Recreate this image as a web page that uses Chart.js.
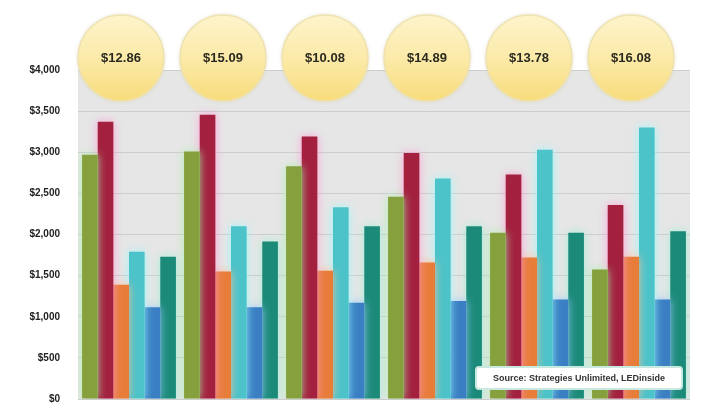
<!DOCTYPE html>
<html>
<head>
<meta charset="utf-8">
<script src="https://cdn.jsdelivr.net/npm/chart.js@4/dist/chart.umd.min.js"></script>
<style>
  html, body { margin: 0; padding: 0; background: #ffffff; overflow: hidden; }
  canvas { display: block; }
</style>
</head>
<body>
<canvas id="price-chart" width="720" height="405"></canvas>
<script>
// データ
const categories = ['1', '2', '3', '4', '5', '6'];
const priceLabels = ['$12.86', '$15.09', '$10.08', '$14.89', '$13.78', '$16.08'];
const greenValues   = [2970, 3010, 2830, 2460, 2020, 1575];
const crimsonValues = [3370, 3455, 3190, 2990, 2730, 2360];
const orangeValues  = [1390, 1550, 1560, 1660, 1720, 1730];
const cyanValues    = [1790, 2100, 2330, 2680, 3030, 3300];
const blueValues    = [1115, 1115, 1170, 1190, 1210, 1210];
const tealValues    = [1730, 1915, 2100, 2100, 2020, 2040];
const yTicks = [0, 500, 1000, 1500, 2000, 2500, 3000, 3500, 4000];
const sourceNote = 'Source: Strategies Unlimited, LEDinside';

// 色設定
const barColors  = ['#85a03c', '#a3203f', '#e87d3a', '#4cc3c9', '#3a7fc3', '#1c8a79'];
const glowColors = ['rgba(170,240,170,0.9)', 'rgba(255,150,210,0.9)', 'rgba(255,190,150,0.9)',
                    'rgba(150,250,255,0.9)', 'rgba(150,200,255,0.9)', 'rgba(150,240,210,0.9)'];

const seriesValues = [greenValues, crimsonValues, orangeValues, cyanValues, blueValues, tealValues];

// 背景・グロー・価格バブル
const decorPlugin = {
    id: 'decor',
    beforeDraw(chart) {
        const { ctx, chartArea } = chart;
        ctx.save();
        ctx.fillStyle = '#ffffff';
        ctx.fillRect(0, 0, chart.width, chart.height);
        ctx.fillStyle = '#e6e6e6';
        ctx.fillRect(chartArea.left, chartArea.top, chartArea.right - chartArea.left, chartArea.bottom - chartArea.top);
        ctx.restore();
    },
    beforeDatasetDraw(chart, args) {
        const ctx = chart.ctx;
        ctx.save();
        ctx.shadowColor = glowColors[args.index];
        ctx.shadowBlur = 9;
    },
    afterDatasetDraw(chart) {
        chart.ctx.restore();
    },
    afterDraw(chart) {
        const { ctx, scales } = chart;
        const r = 43;
        const cy = 58;
        priceLabels.forEach((label, i) => {
            const cx = scales.x.getPixelForValue(i) - 8;
            ctx.save();
            ctx.shadowColor = 'rgba(200,190,140,0.6)';
            ctx.shadowBlur = 4;
            const grad = ctx.createLinearGradient(0, cy - r, 0, cy + r);
            grad.addColorStop(0, '#fdf4cc');
            grad.addColorStop(0.5, '#fbeaa8');
            grad.addColorStop(1, '#f8dc7c');
            ctx.beginPath();
            ctx.arc(cx, cy, r, 0, Math.PI * 2);
            ctx.fillStyle = grad;
            ctx.fill();
            ctx.shadowBlur = 0;
            ctx.strokeStyle = '#efe2b0';
            ctx.lineWidth = 1.5;
            ctx.stroke();
            ctx.fillStyle = '#2b2a20';
            ctx.font = 'bold 13px "Liberation Sans", Arial, sans-serif';
            ctx.textAlign = 'center';
            ctx.textBaseline = 'middle';
            ctx.fillText(label, cx, cy);
            ctx.restore();
        });

        // 出典ボックス
        ctx.save();
        ctx.fillStyle = '#ffffff';
        ctx.strokeStyle = '#c8e8e0';
        ctx.lineWidth = 2;
        ctx.beginPath();
        ctx.roundRect(476, 367, 206, 22, 3);
        ctx.fill();
        ctx.stroke();
        ctx.fillStyle = '#333333';
        ctx.font = 'bold 9px "Liberation Sans", Arial, sans-serif';
        ctx.textAlign = 'center';
        ctx.textBaseline = 'middle';
        ctx.fillText(sourceNote, 579, 378.5);
        ctx.restore();
    }
};

const ctx = document.getElementById('price-chart').getContext('2d');
const priceChart = new Chart(ctx, {
    type: 'bar',
    data: {
        labels: categories,
        datasets: seriesValues.map((values, i) => ({
            label: 'series ' + (i + 1),
            data: values,
            backgroundColor: barColors[i],
            borderWidth: 0,
            categoryPercentage: 0.92,
            barPercentage: 1.0
        }))
    },
    options: {
        responsive: false,
        animation: false,
        devicePixelRatio: 1,
        layout: { padding: { top: 70, right: 30, bottom: 0, left: 0 } },
        plugins: {
            legend: { display: false },
            tooltip: { enabled: false }
        },
        scales: {
            x: { display: false },
            y: {
                min: 0,
                max: 4000,
                afterBuildTicks(scale) {
                    scale.ticks = yTicks.map(v => ({ value: v }));
                },
                afterFit(scale) {
                    scale.width = 78;
                },
                ticks: {
                    padding: 0,
                    color: '#222222',
                    font: { family: '"Liberation Sans", Arial, sans-serif', size: 10, weight: 'bold' },
                    callback: v => '$' + v.toLocaleString('en-US')
                },
                grid: { color: '#cdcdcd', drawTicks: true, tickLength: 18, tickColor: 'rgba(0,0,0,0)' },
                border: { display: false }
            }
        }
    },
    plugins: [decorPlugin]
});
</script>
</body>
</html>
